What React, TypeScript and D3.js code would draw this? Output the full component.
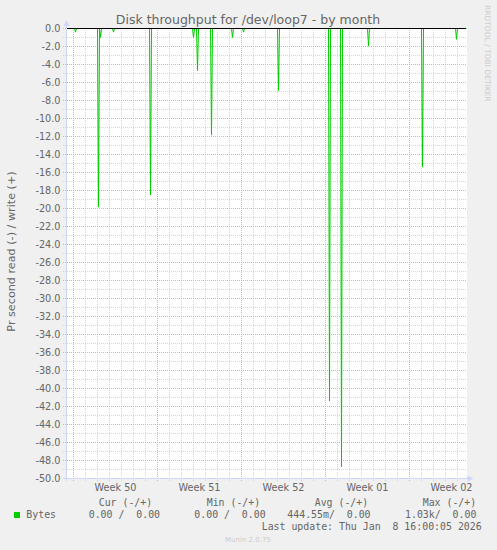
import React from 'react';
import * as d3 from 'd3';

const TITLE = 'Disk throughput for /dev/loop7 - by month';
const Y_LABEL = 'Pr second read (-) / write (+)';
const WATERMARK = 'RRDTOOL / TOBI OETIKER';
const FOOTER = 'Munin 2.0.75';
const LAST_UPDATE = 'Last update: Thu Jan  8 16:00:05 2026';

const yTickValues = [0, -2, -4, -6, -8, -10, -12, -14, -16, -18, -20, -22, -24, -26, -28, -30, -32, -34, -36, -38, -40, -42, -44, -46, -48, -50];
const yTickLabels = ['0.0', '-2.0', '-4.0', '-6.0', '-8.0', '-10.0', '-12.0', '-14.0', '-16.0', '-18.0', '-20.0', '-22.0', '-24.0', '-26.0', '-28.0', '-30.0', '-32.0', '-34.0', '-36.0', '-38.0', '-40.0', '-42.0', '-44.0', '-46.0', '-48.0', '-50.0'];

const weekStarts = ['2025-12-08T00:00:00Z', '2025-12-15T00:00:00Z', '2025-12-22T00:00:00Z', '2025-12-29T00:00:00Z', '2026-01-05T00:00:00Z'];
const weekLabels = ['Week 50', 'Week 51', 'Week 52', 'Week 01', 'Week 02'];

// read (-) samples that differ from zero, 2-hour resolution
const readTimes = [
  '2025-12-08T04:00:00Z', '2025-12-10T02:00:00Z', '2025-12-10T06:00:00Z', '2025-12-11T08:00:00Z',
  '2025-12-14T10:00:00Z', '2025-12-18T00:00:00Z', '2025-12-18T08:00:00Z', '2025-12-19T12:00:00Z',
  '2025-12-21T06:00:00Z', '2025-12-22T04:00:00Z', '2025-12-25T02:00:00Z', '2025-12-29T08:00:00Z',
  '2025-12-30T08:00:00Z', '2026-01-01T14:00:00Z', '2026-01-06T02:00:00Z', '2026-01-08T22:00:00Z',
];
const readValues = [-0.4, -19.85, -1.0, -0.4, -18.5, -1.0, -4.67, -11.85, -1.0, -0.4, -6.9, -41.4, -48.7, -1.96, -15.4, -1.2];

const legendSeries = ['Bytes'];
const legendHeaders = ['Cur (-/+)', 'Min (-/+)', 'Avg (-/+)', 'Max (-/+)'];
const legendValues = ['0.00 /  0.00', '0.00 /  0.00', '444.55m/  0.00', '1.03k/  0.00'];

const W = 497;
const H = 550;
const SANS = '"DejaVu Sans", sans-serif';
const MONO = '"DejaVu Sans Mono", monospace';
const FONT_COLOR = '#666666';
const AXIS_COLOR = '#CFD6F8';
const GRID_COLOR = '#d6d6d6';
const MGRID_COLOR = '#e8a8a8';
const LINE_COLOR = '#00cc00';

const domainStart = new Date('2025-12-07T12:00:00Z');
const domainEnd = new Date('2026-01-09T20:00:00Z');
const dataEnd = new Date('2026-01-09T18:00:00Z');

export default function App() {
  const x = d3.scaleUtc().domain([domainStart, domainEnd]).range([67.5, 467.5]);
  const y = d3.scaleLinear().domain([0, -50]).range([28.5, 478.5]);
  const left = 67;
  const right = 467;
  const top = 28;
  const bottom = 478;

  const days = d3.utcDay.range(d3.utcDay.ceil(domainStart), domainEnd);
  const weekDates = weekStarts.map((s) => new Date(s));
  const isWeek = (d: Date) => weekDates.some((w) => w.getTime() === d.getTime());
  const minorY = d3.range(0, -50.5, -1).filter((v) => !yTickValues.includes(v));

  // build series: zeros between non-zero samples
  const pts: [Date, number][] = [[domainStart, 0]];
  const twoH = 2 * 3600 * 1000;
  readTimes.forEach((t, i) => {
    const d = new Date(t);
    pts.push([new Date(d.getTime() - twoH), 0]);
    pts.push([d, readValues[i]]);
    pts.push([new Date(d.getTime() + twoH), 0]);
  });
  pts.push([dataEnd, 0]);
  const line = d3.line<[Date, number]>().x((p) => x(p[0])).y((p) => y(p[1]));

  return (
    <svg width={W} height={H} style={{ position: 'absolute', left: 0, top: 0 }} xmlns="http://www.w3.org/2000/svg">
      <rect x={0} y={0} width={W} height={H} fill="#f0f0f0" />
      <rect x={left} y={top} width={right - left} height={bottom - top} fill="#ffffff" />

      {/* minor grid */}
      {minorY.map((v) => (
        <line key={'my' + v} x1={63} x2={right} y1={y(v)} y2={y(v)} stroke={GRID_COLOR} strokeDasharray="1,1" shapeRendering="crispEdges" />
      ))}
      {days.filter((d) => !isWeek(d)).map((d) => (
        <line key={'mx' + d.getTime()} x1={x(d)} x2={x(d)} y1={top} y2={bottom + 3} stroke={GRID_COLOR} strokeDasharray="1,1" shapeRendering="crispEdges" />
      ))}
      {/* major grid */}
      {yTickValues.map((v) => (
        <line key={'My' + v} x1={63} x2={right} y1={y(v)} y2={y(v)} stroke={MGRID_COLOR} strokeDasharray="1,1" shapeRendering="crispEdges" />
      ))}
      {weekDates.map((d) => (
        <line key={'Mx' + d.getTime()} x1={x(d)} x2={x(d)} y1={top} y2={bottom + 3} stroke={MGRID_COLOR} strokeDasharray="1,1" shapeRendering="crispEdges" />
      ))}

      {/* data */}
      <path d={line(pts) || ''} fill="none" stroke={LINE_COLOR} strokeWidth={1} />
      <line x1={left} x2={466} y1={y(0)} y2={y(0)} stroke="#000000" strokeWidth={1} shapeRendering="crispEdges" />

      {/* axes */}
      <line x1={66.5} x2={66.5} y1={25} y2={481} stroke={AXIS_COLOR} shapeRendering="crispEdges" />
      <line x1={63} x2={469} y1={478.5} y2={478.5} stroke={AXIS_COLOR} shapeRendering="crispEdges" />
      <path d="M66.5,20 L63.5,26 L69.5,26 Z" fill={AXIS_COLOR} />
      <path d="M473.5,478.5 L467.5,475.5 L467.5,481.5 Z" fill={AXIS_COLOR} />

      {/* y tick labels */}
      {yTickValues.map((v, i) => (
        <text key={'yl' + v} x={60.5} y={y(v) + 3.5} textAnchor="end" fontFamily={SANS} fontSize={9.7} fill={FONT_COLOR}>
          {yTickLabels[i]}
        </text>
      ))}
      {/* x labels */}
      {weekDates.map((d, i) => (
        <text key={'xl' + i} x={x(new Date(d.getTime() + 3.5 * 86400000))} y={491} textAnchor="middle" fontFamily={SANS} fontSize={9.7} fill={FONT_COLOR}>
          {weekLabels[i]}
        </text>
      ))}

      {/* title */}
      <text x={248} y={23.5} textAnchor="middle" fontFamily={SANS} fontSize={12.5} fill={FONT_COLOR}>{TITLE}</text>
      {/* y label */}
      <text transform="translate(14.5,251.5) rotate(-90)" textAnchor="middle" fontFamily={SANS} fontSize={11.2} fill={FONT_COLOR}>{Y_LABEL}</text>
      {/* watermark */}
      <text transform="translate(485,5) rotate(90)" textAnchor="start" fontFamily={SANS} fontSize={7.5} fill="#cccccc">{WATERMARK}</text>

      {/* legend */}
      <rect x={14} y={512} width={6} height={6} fill={LINE_COLOR} />
      <text x={26.3} y={518} fontFamily={MONO} fontSize={9.9} fill={FONT_COLOR} style={{ whiteSpace: 'pre' }}>{legendSeries[0]}</text>
      {legendHeaders.map((h, i) => (
        <text key={'lh' + i} x={[98.7, 206.7, 314.7, 422.7][i]} y={506} fontFamily={MONO} fontSize={9.9} fill={FONT_COLOR} style={{ whiteSpace: 'pre' }}>{h}</text>
      ))}
      {legendValues.map((v, i) => (
        <text key={'lv' + i} x={[88.7, 194.3, 287.3, 405][i]} y={518} fontFamily={MONO} fontSize={9.9} fill={FONT_COLOR} style={{ whiteSpace: 'pre' }}>{v}</text>
      ))}
      <text x={261.7} y={530} fontFamily={MONO} fontSize={9.9} fill={FONT_COLOR} style={{ whiteSpace: 'pre' }}>{LAST_UPDATE}</text>
      <text x={248} y={541.5} textAnchor="middle" fontFamily={SANS} fontSize={7} fill="#cccccc">{FOOTER}</text>
    </svg>
  );
}
